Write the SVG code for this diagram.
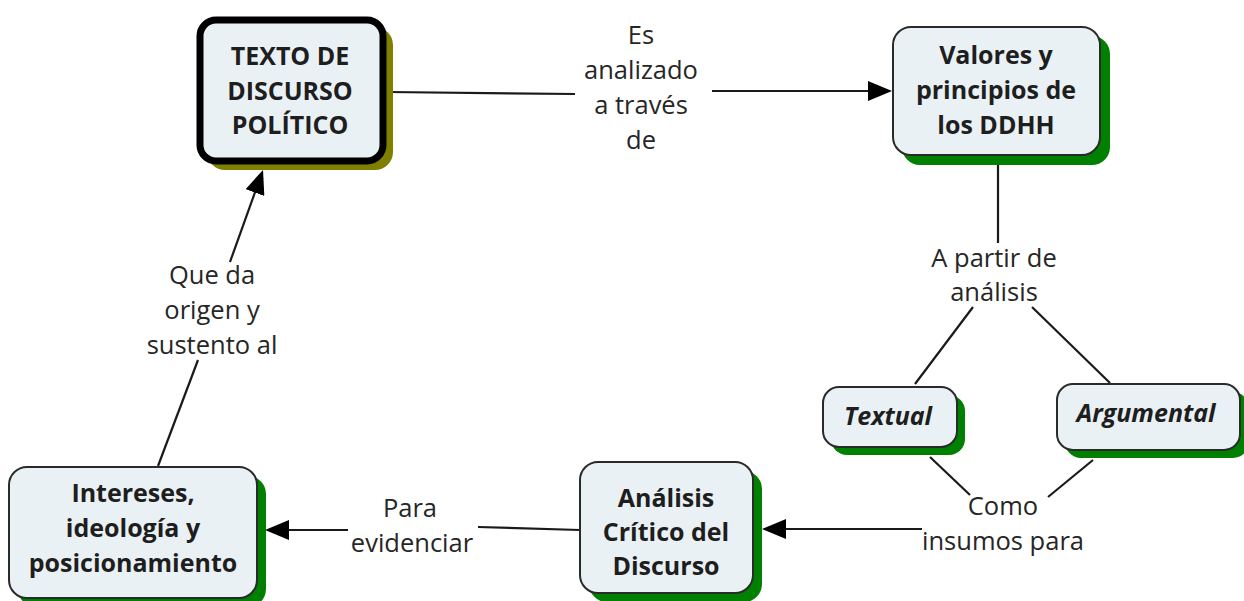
<svg xmlns="http://www.w3.org/2000/svg" width="1244" height="601" viewBox="0 0 1244 601">
<style>
.box{fill:#eaf1f5;stroke:#2a2a2a;stroke-width:2}
.sh{fill:#008000}
.sho{fill:#808000}
.nt{font-family:"Open Sans","Liberation Sans",sans-serif;font-size:25px;font-weight:bold;fill:#1e1e1e;text-anchor:middle}
.it{font-style:italic}
.lb{font-family:"Open Sans","Liberation Sans",sans-serif;font-size:25.5px;fill:#262626;text-anchor:middle}
.c{stroke:#1a1a1a;stroke-width:2.2;fill:none}
</style>
<defs>
<marker id="ah" viewBox="0 0 24 20" refX="18" refY="10" markerWidth="24" markerHeight="20" markerUnits="userSpaceOnUse" orient="auto">
<path d="M0,0 L24,10 L0,20 Z" fill="#000"/>
</marker>
</defs>
<rect width="1244" height="601" fill="#fff"/>
<g id="connectors">
<line class="c" x1="388" y1="92" x2="575" y2="94"/>
<line class="c" x1="712" y1="91" x2="886" y2="91" marker-end="url(#ah)"/>
<line class="c" x1="158" y1="466" x2="198" y2="360"/>
<line class="c" x1="230" y1="262" x2="261" y2="175.6" marker-end="url(#ah)"/>
<line class="c" x1="998" y1="165" x2="998" y2="243"/>
<line class="c" x1="973" y1="307" x2="915" y2="384"/>
<line class="c" x1="1032" y1="307" x2="1110" y2="383"/>
<line class="c" x1="930" y1="457" x2="970" y2="495"/>
<line class="c" x1="1093" y1="460" x2="1048" y2="497"/>
<line class="c" x1="922" y1="529" x2="768" y2="529" marker-end="url(#ah)"/>
<line class="c" x1="580" y1="530" x2="478" y2="527"/>
<line class="c" x1="348" y1="530" x2="271" y2="530" marker-end="url(#ah)"/>
<g id="labels">
<text class="lb" x="641" y="44">Es</text>
<text class="lb" x="641" y="79">analizado</text>
<text class="lb" x="641" y="114">a través</text>
<text class="lb" x="641" y="149">de</text>
<text class="lb" x="212" y="284">Que da</text>
<text class="lb" x="212" y="319">origen y</text>
<text class="lb" x="212" y="354">sustento al</text>
<text class="lb" x="994" y="267">A partir de</text>
<text class="lb" x="994" y="301">análisis</text>
<text class="lb" x="1003" y="515">Como</text>
<text class="lb" x="1003" y="550">insumos para</text>
<text class="lb" x="410" y="517">Para</text>
<text class="lb" x="412" y="552">evidenciar</text>
</g>
</g>
<g id="node-texto">
<rect class="sho" x="207" y="27" width="186" height="143" rx="18"/>
<rect x="200" y="20" width="183" height="141" rx="16" fill="#eaf1f5" stroke="#000" stroke-width="7"/>
<text class="nt" x="290" y="65">TEXTO DE</text>
<text class="nt" x="290" y="100">DISCURSO</text>
<text class="nt" x="290" y="134">POLÍTICO</text>
</g>
<g id="node-valores">
<rect class="sh" x="902" y="36" width="208" height="129" rx="18"/>
<rect class="box" x="893" y="27" width="207" height="128" rx="18"/>
<text class="nt" x="996" y="64">Valores y</text>
<text class="nt" x="996" y="99">principios de</text>
<text class="nt" x="996" y="134">los DDHH</text>
</g>
<g id="node-textual">
<rect class="sh" x="831" y="395" width="134" height="60" rx="16"/>
<rect class="box" x="823" y="387" width="134" height="60" rx="16"/>
<text class="nt it" x="888" y="425">Textual</text>
</g>
<g id="node-argumental">
<rect class="sh" x="1065" y="392" width="184" height="66" rx="16"/>
<rect class="box" x="1057" y="384" width="183" height="66" rx="16"/>
<text class="nt it" x="1146" y="422">Argumental</text>
</g>
<g id="node-intereses">
<rect class="sh" x="18" y="476" width="248" height="131" rx="18"/>
<rect class="box" x="9" y="467" width="248" height="131" rx="18"/>
<text class="nt" x="133" y="502">Intereses,</text>
<text class="nt" x="133" y="537">ideología y</text>
<text class="nt" x="133" y="572">posicionamiento</text>
</g>
<g id="node-analisis">
<rect class="sh" x="589" y="471" width="173" height="131" rx="18"/>
<rect class="box" x="580" y="462" width="173" height="131" rx="18"/>
<text class="nt" x="666" y="507">Análisis</text>
<text class="nt" x="666" y="541">Crítico del</text>
<text class="nt" x="666" y="575">Discurso</text>
</g>
</svg>
